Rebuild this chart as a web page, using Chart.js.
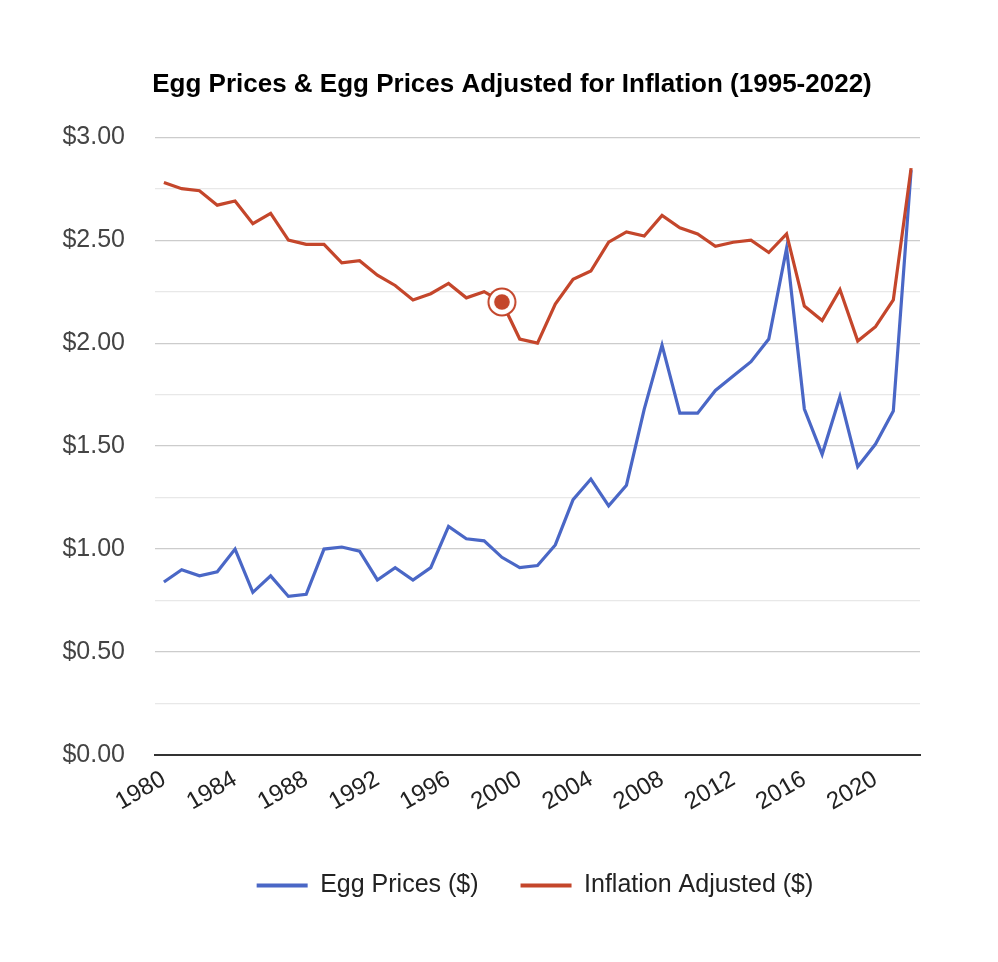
<!DOCTYPE html>
<html>
<head>
<meta charset="utf-8">
<script src="https://cdn.jsdelivr.net/npm/chart.js@4.4.0/dist/chart.umd.min.js"></script>
<style>
  html, body { margin: 0; padding: 0; background: #ffffff; }
  #wrap { width: 998px; height: 962px; }
</style>
</head>
<body>
<div id="wrap"><canvas id="c" width="998" height="962"></canvas></div>
<script>
const titleText = "Egg Prices & Egg Prices Adjusted for Inflation (1995-2022)";
const years = [1980,1981,1982,1983,1984,1985,1986,1987,1988,1989,
               1990,1991,1992,1993,1994,1995,1996,1997,1998,1999,
               2000,2001,2002,2003,2004,2005,2006,2007,2008,2009,
               2010,2011,2012,2013,2014,2015,2016,2017,2018,2019,
               2020,2021,2022];
const eggPrices = [0.84,0.90,0.87,0.89,1.00,0.79,0.87,0.77,0.78,1.00,
                   1.01,0.99,0.85,0.91,0.85,0.91,1.11,1.05,1.04,0.96,
                   0.91,0.92,1.02,1.24,1.34,1.21,1.31,1.68,1.99,1.66,
                   1.66,1.77,1.84,1.91,2.02,2.46,1.68,1.46,1.74,1.40,
                   1.51,1.67,2.84];
const inflationAdjusted = [2.78,2.75,2.74,2.67,2.69,2.58,2.63,2.50,2.48,2.48,
                           2.39,2.40,2.33,2.28,2.21,2.24,2.29,2.22,2.25,2.20,
                           2.02,2.00,2.19,2.31,2.35,2.49,2.54,2.52,2.62,2.56,
                           2.53,2.47,2.49,2.50,2.44,2.53,2.18,2.11,2.26,2.01,
                           2.08,2.21,2.85];
const xTickYears = [1980,1984,1988,1992,1996,2000,2004,2008,2012,2016,2020];
const yTickValues = [0, 0.5, 1, 1.5, 2, 2.5, 3];
const seriesNames = ["Egg Prices ($)", "Inflation Adjusted ($)"];
const highlightYear = 1999;

const BLUE = '#4a67c6';
const RED = '#c4462b';
const FONT = "'Liberation Sans', Arial, sans-serif";

function makeMarker(color) {
  const c = document.createElement('canvas');
  c.width = 32; c.height = 32;
  const g = c.getContext('2d');
  g.beginPath(); g.arc(16, 16, 13.5, 0, Math.PI * 2);
  g.fillStyle = '#ffffff'; g.fill();
  g.lineWidth = 2; g.strokeStyle = color; g.stroke();
  g.beginPath(); g.arc(16, 16, 7.8, 0, Math.PI * 2);
  g.fillStyle = color; g.fill();
  return c;
}
const marker = makeMarker(RED);

const shiftPlugin = {
  id: 'shiftBlocks',
  afterLayout(chart) {
    const shift = (box, cx) => {
      if (!box) return;
      const d = cx - (box.left + box.right) / 2;
      box.left += d; box.right += d;
    };
    shift(chart.titleBlock, 512);
    shift(chart.legend, 535);
  }
};

new Chart(document.getElementById('c'), {
  type: 'line',
  data: {
    labels: years,
    datasets: [
      {
        label: seriesNames[0],
        data: eggPrices,
        borderColor: BLUE,
        backgroundColor: BLUE,
        borderWidth: 3.2,
        pointRadius: 0,
        tension: 0,
        order: 2
      },
      {
        label: seriesNames[1],
        data: inflationAdjusted,
        borderColor: RED,
        backgroundColor: RED,
        borderWidth: 3.2,
        tension: 0,
        pointStyle: ctx => years[ctx.dataIndex] === highlightYear ? marker : 'circle',
        pointRadius: ctx => years[ctx.dataIndex] === highlightYear ? 7 : 0,
        pointBorderWidth: 0,
        order: 1
      }
    ]
  },
  options: {
    responsive: false,
    animation: false,
    events: [],
    layout: { padding: { left: 0, right: 78, top: 0, bottom: 54 } },
    plugins: {
      tooltip: { enabled: false },
      title: {
        display: true,
        text: titleText,
        color: '#000000',
        font: { family: FONT, size: 26, weight: 'bold', lineHeight: 1.2 },
        padding: { top: 69, bottom: 37 }
      },
      legend: {
        display: true,
        position: 'bottom',
        labels: {
          color: '#222222',
          font: { family: FONT, size: 25 },
          boxWidth: 51,
          boxHeight: 4,
          padding: 42,
          sort: (a, b) => a.datasetIndex - b.datasetIndex,
          generateLabels(chart) {
            return Chart.defaults.plugins.legend.labels.generateLabels(chart).map(l => {
              l.lineWidth = 0;
              l.fillStyle = l.strokeStyle;
              return l;
            });
          }
        }
      }
    },
    scales: {
      x: {
        type: 'category',
        offset: true,
        grid: { display: false, drawTicks: false },
        border: { display: true, color: '#333333', width: 2 },
        ticks: {
          autoSkip: false,
          minRotation: 30,
          maxRotation: 30,
          padding: 10,
          color: '#222222',
          font: { family: FONT, size: 24 },
          callback(value) {
            const y = Number(this.getLabelForValue(value));
            return xTickYears.includes(y) ? String(y) : '';
          }
        },
        afterFit(scale) { scale.height = 76; }
      },
      y: {
        min: 0,
        max: 3,
        border: { display: false },
        grid: {
          drawTicks: false,
          lineWidth: 1.2,
          color: ctx => {
            const v = ctx.tick ? ctx.tick.value : 0;
            if (Math.abs(v) < 1e-9) return 'rgba(0,0,0,0)';
            return yTickValues.some(t => Math.abs(t - v) < 1e-9) ? '#cccccc' : '#e8e8e8';
          }
        },
        ticks: {
          stepSize: 0.25,
          padding: 30,
          color: '#444444',
          font: { family: FONT, size: 25 },
          callback(value) {
            return yTickValues.some(t => Math.abs(t - value) < 1e-9) ? '$' + Number(value).toFixed(2) : '';
          }
        },
        afterFit(scale) { scale.width = 155; }
      }
    }
  },
  plugins: [shiftPlugin]
});
</script>
</body>
</html>
